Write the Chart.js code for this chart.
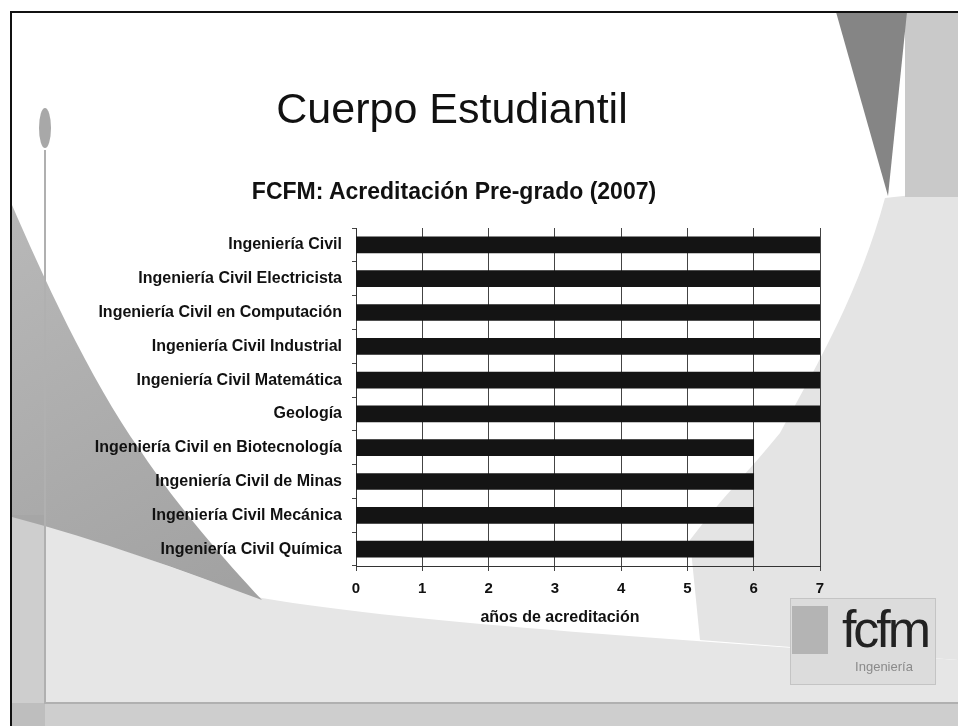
<!DOCTYPE html>
<html lang="es">
<head>
<meta charset="utf-8">
<title>FCFM: Acreditación Pre-grado (2007)</title>
<script src="https://cdn.jsdelivr.net/npm/chart.js@4/dist/chart.umd.min.js"></script>
<style>
  html, body { margin: 0; padding: 0; background: #fff; }
  #wrap { position: relative; width: 958px; height: 726px; overflow: hidden; font-family: "Liberation Sans", Arial, sans-serif; }
  #chart { position: absolute; left: 0; top: 0; }
  .txt { position: absolute; color: #111; white-space: nowrap; line-height: 1; transform: translateX(-50%); }
  #slideTitle { left: 452px; top: 87px; font-size: 43px; }
  #chartTitle { left: 454px; top: 180px; font-size: 23px; font-weight: bold; }
  #axisTitle { left: 560px; top: 609px; font-size: 16px; font-weight: bold; }
  #logo { left: 885px; top: 603px; font-size: 52px; color: #222; letter-spacing: -3px; }
  #logoSub { left: 884px; top: 660px; font-size: 13px; color: #8a8a8a; }
</style>
</head>
<body>
<div id="wrap">
  <canvas id="chart" width="958" height="726"></canvas>
  <div class="txt" id="slideTitle">Cuerpo Estudiantil</div>
  <div class="txt" id="chartTitle">FCFM: Acreditación Pre-grado (2007)</div>
  <div class="txt" id="axisTitle">años de acreditación</div>
  <div class="txt" id="logo">fcfm</div>
  <div class="txt" id="logoSub">Ingeniería</div>
</div>
<script>
// carreras, de arriba hacia abajo
const carreras = [
  'Ingeniería Civil',
  'Ingeniería Civil Electricista',
  'Ingeniería Civil en Computación',
  'Ingeniería Civil Industrial',
  'Ingeniería Civil Matemática',
  'Geología',
  'Ingeniería Civil en Biotecnología',
  'Ingeniería Civil de Minas',
  'Ingeniería Civil Mecánica',
  'Ingeniería Civil Química'
];
const aniosAcreditacion = [7, 7, 7, 7, 7, 7, 6, 6, 6, 6];
const ejeMin = 0;
const ejeMax = 7;

// fondo de la diapositiva (marco y formas grises)
const slideBackground = {
  id: 'slideBackground',
  beforeDraw(chart) {
    const ctx = chart.ctx;
    ctx.save();
    ctx.fillStyle = '#fff';
    ctx.fillRect(0, 0, 958, 726);

    // zona clara derecha
    ctx.fillStyle = '#e4e4e4';
    ctx.beginPath();
    ctx.moveTo(958, 190);
    ctx.lineTo(885, 198);
    ctx.bezierCurveTo(860, 290, 820, 360, 780, 433);
    ctx.bezierCurveTo(750, 470, 720, 500, 690, 540);
    ctx.lineTo(700, 640);
    ctx.lineTo(958, 660);
    ctx.closePath();
    ctx.fill();

    // franja inferior clara
    ctx.fillStyle = '#e6e6e6';
    ctx.beginPath();
    ctx.moveTo(12, 515);
    ctx.bezierCurveTo(120, 545, 200, 580, 262, 598);
    ctx.bezierCurveTo(420, 625, 700, 640, 958, 660);
    ctx.lineTo(958, 726);
    ctx.lineTo(12, 726);
    ctx.closePath();
    ctx.fill();

    // triangulo gris a la izquierda
    const g = ctx.createLinearGradient(12, 210, 220, 590);
    g.addColorStop(0, '#b8b8b8');
    g.addColorStop(1, '#a2a2a2');
    ctx.fillStyle = g;
    ctx.beginPath();
    ctx.moveTo(12, 205);
    ctx.bezierCurveTo(40, 270, 90, 380, 140, 450);
    ctx.bezierCurveTo(180, 510, 225, 560, 262, 600);
    ctx.bezierCurveTo(180, 570, 100, 540, 12, 517);
    ctx.closePath();
    ctx.fill();

    // formas superiores derechas
    ctx.fillStyle = '#c9c9c9';
    ctx.fillRect(905, 12, 53, 185);
    ctx.fillStyle = '#858585';
    ctx.beginPath();
    ctx.moveTo(836, 12);
    ctx.lineTo(907, 12);
    ctx.lineTo(888, 196);
    ctx.closePath();
    ctx.fill();

    // bandas del marco interior
    ctx.fillStyle = 'rgba(160,160,160,0.35)';
    ctx.fillRect(12, 515, 33, 211);
    ctx.fillRect(12, 703, 946, 23);
    ctx.strokeStyle = '#b0b0b0';
    ctx.lineWidth = 2;
    ctx.beginPath();
    ctx.moveTo(45, 150);
    ctx.lineTo(45, 703);
    ctx.lineTo(958, 703);
    ctx.stroke();
    ctx.fillStyle = '#a8a8a8';
    ctx.beginPath();
    ctx.ellipse(45, 128, 6, 20, 0, 0, Math.PI * 2);
    ctx.fill();

    // caja del logo
    ctx.fillStyle = '#dcdcdc';
    ctx.fillRect(790, 598, 145, 86);
    ctx.strokeStyle = '#c4c4c4';
    ctx.lineWidth = 1;
    ctx.strokeRect(790.5, 598.5, 145, 86);
    ctx.fillStyle = '#b4b4b4';
    ctx.fillRect(792, 606, 36, 48);

    // marco exterior
    ctx.strokeStyle = '#111';
    ctx.lineWidth = 2;
    ctx.beginPath();
    ctx.moveTo(11, 726);
    ctx.lineTo(11, 12);
    ctx.lineTo(958, 12);
    ctx.stroke();
    ctx.restore();
  }
};

new Chart(document.getElementById('chart'), {
  type: 'bar',
  data: {
    labels: carreras,
    datasets: [{
      label: 'años de acreditación',
      data: aniosAcreditacion,
      backgroundColor: '#141414',
      borderWidth: 0,
      barThickness: 16
    }]
  },
  options: {
    indexAxis: 'y',
    responsive: false,
    animation: false,
    layout: { padding: { left: 0, top: 228, right: 138, bottom: 90 } },
    plugins: {
      legend: { display: false },
      tooltip: { enabled: false }
    },
    scales: {
      x: {
        min: ejeMin,
        max: ejeMax,
        ticks: {
          stepSize: 1,
          color: '#111',
          padding: 9,
          font: { family: 'Liberation Sans, Arial, sans-serif', size: 15, weight: 'bold' }
        },
        grid: { color: '#444', lineWidth: 1, tickLength: 5 },
        border: { color: '#333', width: 1 },
        afterFit(scale) { scale.height = 70; }
      },
      y: {
        ticks: {
          color: '#111',
          padding: 10,
          font: { family: 'Liberation Sans, Arial, sans-serif', size: 16, weight: 'bold' }
        },
        grid: { drawOnChartArea: false, color: '#444', tickLength: 4, offset: true },
        border: { color: '#333', width: 1 },
        afterFit(scale) { scale.width = 356; }
      }
    }
  },
  plugins: [slideBackground]
});
</script>
</body>
</html>
